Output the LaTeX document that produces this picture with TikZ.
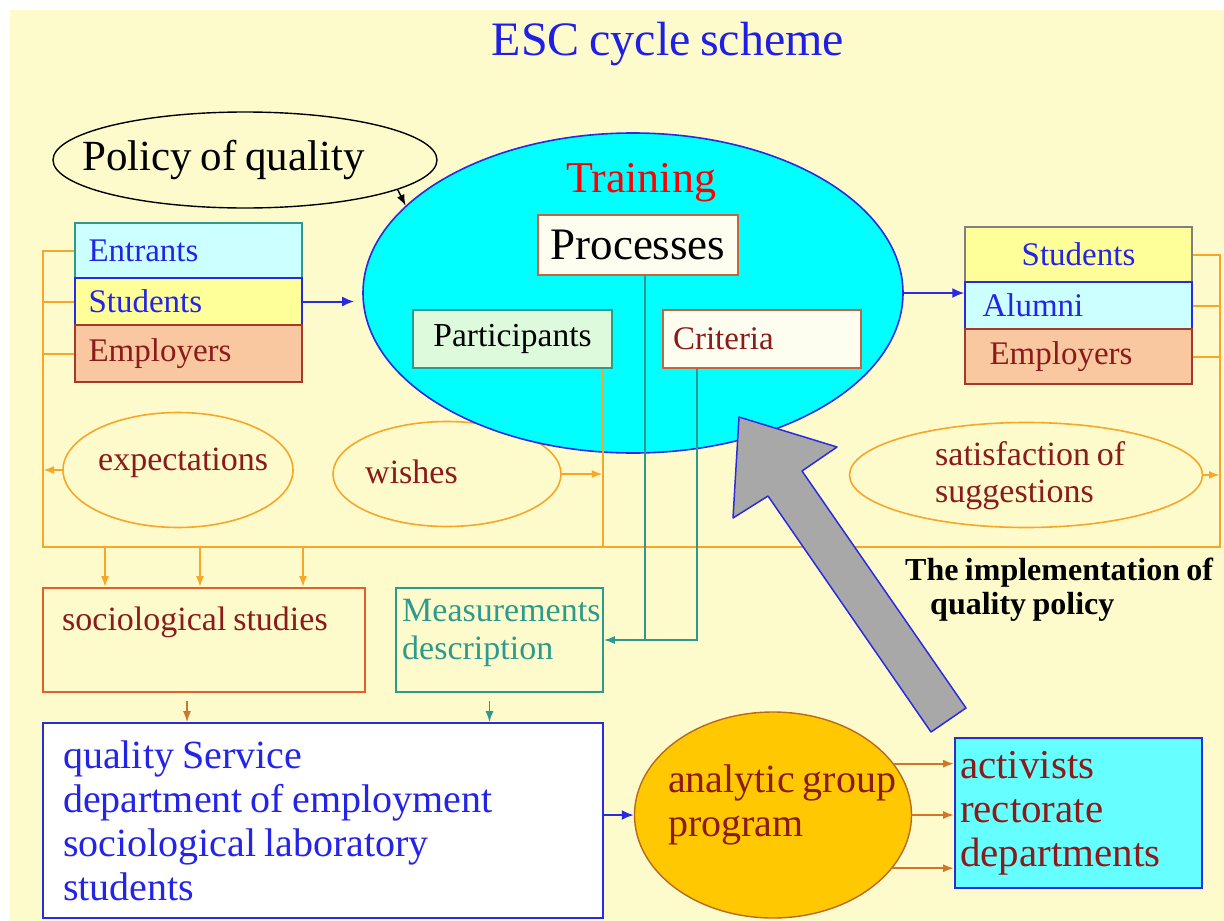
\documentclass[tikz,border=0pt]{standalone}
\usepackage{fontspec}
\setmainfont{Liberation Serif}[WordSpace=0.8]
\usepackage{xcolor}
\usetikzlibrary{shapes.geometric,arrows.meta}

\definecolor{bgyellow}{HTML}{FDFBCC}
\definecolor{titleblue}{HTML}{1F1FE6}
\definecolor{textblue}{HTML}{2424E6}
\definecolor{darkred}{HTML}{8B1A1A}
\definecolor{lineorange}{HTML}{F8A62A}
\definecolor{tealline}{HTML}{2E9A8E}
\definecolor{boxred}{HTML}{E4602A}
\definecolor{boxbrown}{HTML}{C8643C}
\definecolor{lightcyan}{HTML}{CCFFFF}
\definecolor{lightyellow}{HTML}{FFFF99}
\definecolor{peach}{HTML}{FAC8A0}
\definecolor{peachborder}{HTML}{A33A2A}
\definecolor{gold}{HTML}{FFC800}
\definecolor{goldborder}{HTML}{B86A1C}
\definecolor{actcyan}{HTML}{66FFFF}
\definecolor{trainingcyan}{HTML}{00FFFF}
\definecolor{arrowgray}{HTML}{A8A8A8}
\definecolor{lightgreen}{HTML}{DDFADD}
\definecolor{brownarrow}{HTML}{D2742A}
\definecolor{lineblue}{HTML}{2A2AE0}

\begin{document}
\begin{tikzpicture}[x=1pt,y=-1pt,
  stack_box/.style={rectangle,draw,line width=1.4pt,minimum width=227pt,text width=200pt,
    inner xsep=13.5pt,inner ysep=2pt,align=flush left,font=\fontsize{33}{36}\selectfont},
  oval_node/.style={ellipse,draw=lineorange,line width=1.6pt},
  oval_text/.style={anchor=west,inner sep=0pt,align=flush left,text=darkred,font=\fontsize{34}{37}\selectfont},
  inner_box/.style={rectangle,line width=1.6pt,inner sep=4pt},
  orange_line/.style={draw=lineorange,line width=2pt},
  orange_arrow/.style={orange_line,-{Latex[length=11pt,width=8pt]}},
  teal_line/.style={draw=tealline,line width=1.6pt},
  teal_arrow/.style={teal_line,-{Latex[length=11pt,width=8pt]}},
  brown_arrow/.style={draw=brownarrow,line width=2pt,-{Latex[length=11pt,width=8pt]}},
  blue_arrow/.style={draw=lineblue,line width=2pt,-{Latex[length=12pt,width=10pt]}}]

\fill[bgyellow] (10,10) rectangle (1224,921);
\useasboundingbox (0,0) rectangle (1224,921);

\node[text=titleblue,font=\fontsize{48}{54}\selectfont] (title) at (668,44) {ESC cycle scheme};

% ovals
\node[ellipse,draw,line width=1.4pt,minimum width=384pt,minimum height=96pt] (policy) at (245,160) {};
\node[oval_node,minimum width=230pt,minimum height=115pt] (expect) at (178,470) {};
\node[oval_node,minimum width=228pt,minimum height=105pt] (wishes) at (447,474) {};
\node[oval_node,minimum width=353pt,minimum height=105pt] (satis) at (1026,475) {};

\node[ellipse,fill=trainingcyan,draw=lineblue,line width=1.6pt,minimum width=540pt,minimum height=320pt] (training) at (633,293) {};

% inside training
\node[inner_box,draw=boxbrown,fill=white!70!bgyellow,minimum width=200pt,minimum height=60pt,
  font=\fontsize{45}{48}\selectfont] (proc) at (638,245) {Processes};
\node[inner_box,draw=tealline,fill=lightgreen,minimum width=199pt,minimum height=58pt,
  font=\fontsize{33.5}{36}\selectfont] (part) at (512.5,339) {Participants};
\node[inner_box,draw=boxbrown,fill=white!70!bgyellow,minimum width=198pt,minimum height=58pt,
  inner xsep=10pt,text width=178pt,align=flush left,text=darkred,font=\fontsize{33}{36}\selectfont] (crit) at (762,339) {Criteria};

% stakeholders
\node[stack_box,fill=lightcyan,draw=tealline,text=textblue,minimum height=55pt] (ent) at (188.5,250.5) {Entrants};
\node[stack_box,fill=lightyellow,draw=lineblue,text=textblue,minimum height=47pt] (stu) at (188.5,301.5) {Students};
\node[stack_box,fill=peach,draw=peachborder,text=darkred,minimum height=57pt] (emp) at (188.5,353.5) {Employers};

\node[stack_box,fill=lightyellow,draw=gray,text=textblue,minimum height=55pt,align=center] (rstu) at (1078.5,254.5) {Students};
\node[stack_box,fill=lightcyan,draw=lineblue,text=textblue,minimum height=47pt] (alu) at (1078.5,305.5) {\hspace*{4pt}Alumni};
\node[stack_box,fill=peach,draw=peachborder,text=darkred,minimum height=55pt] (remp) at (1078.5,356.5) {\hspace*{11pt}Employers};

% lower part
\node[rectangle,draw=boxred,line width=1.7pt,minimum width=322pt,minimum height=104pt] (socio) at (204,640) {};
\node[rectangle,draw=tealline,line width=1.7pt,minimum width=207pt,minimum height=104pt] (meas) at (499.5,640) {};
\node[rectangle,draw=lineblue,fill=white,line width=1.8pt,minimum width=560pt,minimum height=195pt,
  inner xsep=20pt,text width=520pt,align=flush left,text=textblue,font=\fontsize{40}{44}\selectfont] (qs) at (323,820.5)
  {quality Service\\department of employment\\sociological laboratory\\students};
\node[ellipse,fill=gold,draw=goldborder,line width=1.4pt,minimum width=277pt,minimum height=206pt] (analytic) at (773,815) {};
\node[rectangle,fill=actcyan,draw=lineblue,line width=1.8pt,minimum width=247pt,minimum height=150pt,
  inner xsep=5pt,inner ysep=3pt,text width=237pt,align=flush left,text=darkred,font=\fontsize{41}{44}\selectfont] (act) at (1078.5,813)
  {activists\\rectorate\\departments};

% texts
\node[anchor=west,inner sep=0pt,font=\fontsize{43}{48}\selectfont] (policy_txt) at (82,160) {Policy of quality};
\node[text=red,inner sep=0pt,font=\fontsize{44}{50}\selectfont] (training_txt) at (641,183) {Training};
\node[oval_text] (expect_txt) at (98,463) {expectations};
\node[oval_text] (wishes_txt) at (365,472) {wishes};
\node[oval_text] (satis_txt) at (935,476) {satisfaction of\\suggestions};
\node[anchor=west,inner sep=0pt,text=darkred,font=\fontsize{34}{37}\selectfont] (socio_txt) at (62,622) {sociological studies};
\node[anchor=west,inner sep=0pt,align=flush left,text=tealline,font=\fontsize{34}{38}\selectfont] (meas_txt) at (402,633) {Measurements\\description};
\node[anchor=west,inner sep=0pt,align=flush left,text=darkred,font=\fontsize{40}{44}\selectfont] (analytic_txt) at (668,805) {analytic group\\program};
\node[anchor=west,inner sep=0pt,align=flush left,font=\bfseries\fontsize{32}{34}\selectfont] (impl_txt) at (905,590)
  {The implementation of\\\hspace*{25pt}quality policy};

% orange feedback bus
\coordinate (bus_bl) at (43,547);
\coordinate (bus_br) at (1220,547);
\coordinate (part_drop) at ([xshift=-10pt]part.south east);

\draw[orange_line] (ent.west) -| (bus_bl) -- (bus_br) |- (rstu.east);
\draw[orange_line] (stu.west) -- (stu.west -| bus_bl);
\draw[orange_line] (emp.west) -- (emp.west -| bus_bl);
\draw[orange_line] (alu.east) -- (alu.east -| bus_br);
\draw[orange_line] (remp.east) -- (remp.east -| bus_br);
\draw[orange_line] (part_drop) -- (part_drop |- bus_bl);
\draw[orange_arrow] (expect.west) -- (expect.west -| bus_bl);
\draw[orange_arrow] (wishes.east) -- (wishes.east -| part_drop);
\draw[orange_arrow] (satis.east) -- (satis.east -| bus_br);
\foreach \dx in {-99,-4,99}
  \draw[orange_arrow] ([xshift=\dx pt]socio.north |- bus_bl) -- ([xshift=\dx pt]socio.north);

% measurements feed
\draw[teal_line] ([xshift=7pt]proc.south) -- ([xshift=7pt]proc.south |- meas.east);
\draw[teal_arrow] ([xshift=-65pt]crit.south) |- (meas.east);

\draw[brown_arrow,line width=1.4pt,shorten <=8pt] ([xshift=-17pt]socio.south) -- ([xshift=-17pt]socio.south |- qs.north);
\draw[teal_arrow,line width=1.4pt,shorten <=8pt] ([xshift=-10pt]meas.south) -- ([xshift=-10pt]meas.south |- qs.north);

% main flow
\draw[-{Latex[length=11pt,width=8pt]},line width=1.4pt] (policy.-11) -- (training.159);
\draw[blue_arrow,shorten >=8pt] (stu.east) -- (stu.east -| training.west);
\draw[blue_arrow] (training.east) -- (training.east -| alu.west);
\draw[blue_arrow] (analytic.west -| qs.east) -- (analytic.west);
\foreach \ang in {23,0,-24}
  \draw[brown_arrow] (analytic.\ang) -- (analytic.\ang -| act.west);

% big arrow
\draw[fill=arrowgray,draw=lineblue,line width=1.5pt,line join=round]
  (739,417) -- (837,447) -- (802,471) -- (966,708) -- (931,732) -- (768,496) -- (733,518) -- cycle;

\end{tikzpicture}
\end{document}
